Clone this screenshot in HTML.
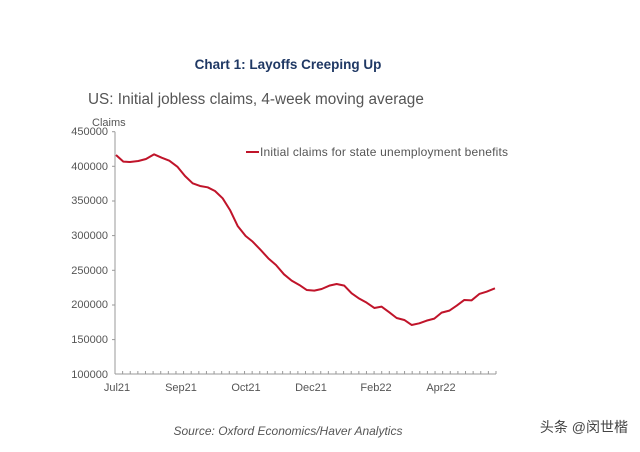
<!DOCTYPE html>
<html><head><meta charset="utf-8"><style>
body{margin:0;background:#fff;width:640px;height:447px;overflow:hidden;font-family:"Liberation Sans","Noto Sans CJK SC",sans-serif}
</style></head><body>
<svg width="640" height="447" viewBox="0 0 640 447" xmlns="http://www.w3.org/2000/svg">
<text x="288" y="69" text-anchor="middle" font-size="13.5" font-weight="bold" fill="#1f3864">Chart 1: Layoffs Creeping Up</text>
<text x="88" y="104" font-size="15.3" fill="#555">US: Initial jobless claims, 4-week moving average</text>
<text x="92" y="126" font-size="11" fill="#555">Claims</text>
<g font-size="11" fill="#555" text-anchor="end">
<text x="108" y="135">450000</text><text x="108" y="170">400000</text><text x="108" y="204">350000</text><text x="108" y="239">300000</text><text x="108" y="274">250000</text><text x="108" y="308">200000</text><text x="108" y="343">150000</text><text x="108" y="378">100000</text>
</g>
<g stroke="#999" stroke-width="1">
<line x1="115" y1="131.7" x2="115" y2="374"/>
<line x1="115" y1="374" x2="496" y2="374"/>
<line x1="112" y1="131.7" x2="115" y2="131.7"/><line x1="112" y1="166.3" x2="115" y2="166.3"/><line x1="112" y1="201" x2="115" y2="201"/><line x1="112" y1="235.6" x2="115" y2="235.6"/><line x1="112" y1="270.3" x2="115" y2="270.3"/><line x1="112" y1="305" x2="115" y2="305"/><line x1="112" y1="339.6" x2="115" y2="339.6"/>
</g>
<g stroke="#999" stroke-width="1" id="ticks"></g>
<g font-size="11" fill="#555" text-anchor="middle">
<text x="117" y="391">Jul21</text><text x="181" y="391">Sep21</text><text x="246" y="391">Oct21</text><text x="311" y="391">Dec21</text><text x="376" y="391">Feb22</text><text x="441" y="391">Apr22</text>
</g>
<g transform="translate(80,110) scale(0.3333)">
<polyline fill="none" stroke="#c0142a" stroke-width="6" stroke-linejoin="round" points="108,135 130,155 150,156 175,153 198,147 222,133 245,143 268,152 292,170 315,198 338,220 360,228 383,232 405,243 428,265 450,300 473,348 497,378 518,395 542,420 565,445 588,465 612,493 635,512 658,525 680,540 703,542 725,537 748,527 770,522 793,527 815,550 838,566 860,578 883,594 905,590 928,607 950,624 973,630 995,645 1018,640 1040,632 1063,626 1085,608 1108,602 1130,587 1153,570 1175,571 1198,552 1220,545 1245,535"/>
</g>
<line x1="246" y1="152" x2="259" y2="152" stroke="#c0142a" stroke-width="2"/>
<text x="260" y="156" font-size="12" fill="#555" textLength="248">Initial claims for state unemployment benefits</text>
<text x="288" y="435" text-anchor="middle" font-size="12" font-style="italic" fill="#555">Source: Oxford Economics/Haver Analytics</text>
<text x="628" y="432" text-anchor="end" font-size="14" fill="#444">头条 @闵世楷</text>
</svg>
<script>
var g=document.getElementById('ticks'),s='';
for(var i=0;i<=50;i++){var x=115+i*7.62;s+='<line x1="'+x+'" y1="371" x2="'+x+'" y2="374"/>';}
g.innerHTML=s;
</script>
</body></html>
